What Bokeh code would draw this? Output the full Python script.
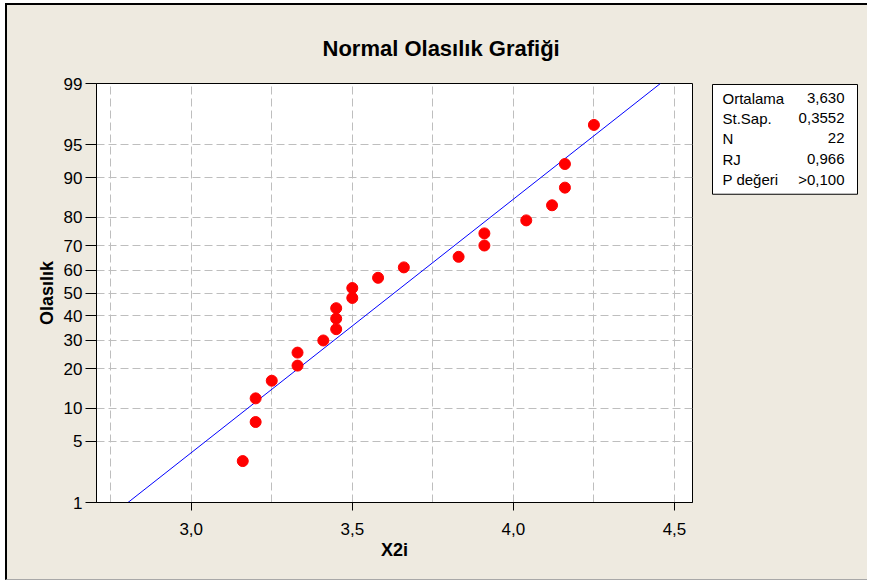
from statistics import NormalDist
from bokeh.plotting import figure
from bokeh.layouts import row
from bokeh.models import Range1d, FixedTicker, CustomJSTickFormatter, Title
from bokeh.core.properties import value
from bokeh.embed import file_html
from bokeh.resources import INLINE

# ---- data ----
x2i = [3.16, 3.20, 3.20, 3.25, 3.33, 3.33, 3.41, 3.45, 3.45, 3.45, 3.50,
       3.50, 3.58, 3.66, 3.83, 3.91, 3.91, 4.04, 4.12, 4.16, 4.16, 4.25]
prob_pct = [3.1, 7.6, 12.1, 16.5, 21.0, 25.4, 29.9, 34.4, 38.8, 43.3, 47.8,
            52.2, 56.7, 61.2, 65.6, 70.1, 74.6, 79.0, 83.5, 87.9, 92.4, 96.9]
fit_mean = 3.630
fit_sd = 0.3552
y_tick_pct = [1, 5, 10, 20, 30, 40, 50, 60, 70, 80, 90, 95, 99]
x_tick_vals = [3.0, 3.5, 4.0, 4.5]
x_grid_vals = [2.75, 3.0, 3.25, 3.5, 3.75, 4.0, 4.25, 4.5]
stat_names = ["Ortalama", "St.Sap.", "N", "RJ", "P değeri"]
stat_values = ["3,630", "0,3552", "22", "0,966", ">0,100"]

nd = NormalDist()
FONT = "Liberation Sans"
BG = "#EEEAE0"
H = 574
TOP = 78
FH = 419

y_ticks = [nd.inv_cdf(v / 100.0) for v in y_tick_pct]
y_labels = [str(v) for v in y_tick_pct]
pts_z = [nd.inv_cdf(v / 100.0) for v in prob_pct]
z_lo, z_hi = nd.inv_cdf(0.01), nd.inv_cdf(0.99)
line_z = [z_lo, z_hi]
line_x = [fit_mean + fit_sd * z for z in line_z]

p = figure(width=700, height=H, output_backend="svg", toolbar_location=None,
           x_range=Range1d(2.706, 4.556),
           y_range=Range1d(z_lo - 1e-9, z_hi + 1e-9),
           min_border_left=89, min_border_right=15,
           min_border_top=TOP, min_border_bottom=H - TOP - FH,
           background_fill_color="white", border_fill_color=BG,
           outline_line_color="black", outline_line_width=1)
p.title = Title(text="Normal Olasılık Grafiği", align="left", offset=226,
                standoff=45, text_font=FONT, text_font_size="22px",
                text_font_style="bold", text_color="black")

# grids
p.xgrid.ticker = FixedTicker(ticks=x_grid_vals)
p.ygrid.ticker = FixedTicker(ticks=y_ticks[1:-1])
for g in (p.xgrid[0], p.ygrid[0]):
    g.grid_line_color = "#BEBEBE"
    g.grid_line_dash = "8 4"
    g.grid_line_width = 1

# x axis
xa = p.xaxis[0]
xa.ticker = FixedTicker(ticks=x_tick_vals)
xa.formatter = CustomJSTickFormatter(code="return tick.toFixed(1).replace('.', ',');")
xa.axis_label = "X2i"
# y axis
ya = p.yaxis[0]
ya.ticker = FixedTicker(ticks=y_ticks)
ya.formatter = CustomJSTickFormatter(
    args=dict(zt=y_ticks, lb=y_labels),
    code="""let b = 0;
for (let i = 0; i < zt.length; i++) {
  if (Math.abs(zt[i] - tick) < Math.abs(zt[b] - tick)) b = i;
}
return lb[b];""")
ya.axis_label = "Olasılık"
for ax in (xa, ya):
    ax.axis_line_color = "black"
    ax.major_tick_line_color = "black"
    ax.major_tick_in = 0
    ax.minor_tick_line_color = None
    ax.major_label_text_font = FONT
    ax.major_label_text_font_size = "17px"
    ax.major_label_text_color = "black"
    ax.axis_label_text_font = FONT
    ax.axis_label_text_font_style = "bold"
    ax.axis_label_text_font_size = "18px"
    ax.axis_label_text_color = "black"
xa.major_tick_out = 8
xa.major_label_standoff = 12
xa.axis_label_standoff = 2
ya.major_tick_out = 11
ya.major_label_standoff = 3
ya.axis_label_standoff = 4

# fitted line and points
p.line(line_x, line_z, line_color="#0000FF", line_width=1)
p.scatter(x2i, pts_z, size=11, fill_color="#FF0000", line_color="#FF0000")

# statistics box in a side panel whose frame lines up with the main frame
p2 = figure(width=160, height=H, output_backend="svg", toolbar_location=None,
            x_range=Range1d(-1, 146), y_range=Range1d(0, 420),
            x_axis_type=None, y_axis_type=None,
            min_border_left=4, min_border_right=9,
            min_border_top=TOP, min_border_bottom=H - TOP - FH,
            background_fill_color=BG, border_fill_color=BG,
            outline_line_color=None)
p2.grid.visible = False
p2.quad(left=[0], right=[145], bottom=[309], top=[419],
        fill_color="white", line_color="black", line_width=1)
row_y = [405, 385, 365, 344, 324]
p2.text(x=[10] * len(stat_names), y=row_y, text=stat_names,
        text_align="left", text_baseline="middle", text_font=value(FONT),
        text_font_size=value("15px"), text_color="black")
p2.text(x=[132] * len(stat_values), y=row_y, text=stat_values,
        text_align="right", text_baseline="middle", text_font=value(FONT),
        text_font_size=value("15px"), text_color="black")

layout = row(p, p2, spacing=0)
layout.styles = {"margin-left": "5px", "margin-top": "3px",
                 "background-color": BG, "overflow": "hidden",
                 "border-top": "2px solid black", "border-left": "2px solid black",
                 "border-bottom": "1px solid #A8A8A8"}

open("out.html", "w").write(file_html(layout, INLINE))
